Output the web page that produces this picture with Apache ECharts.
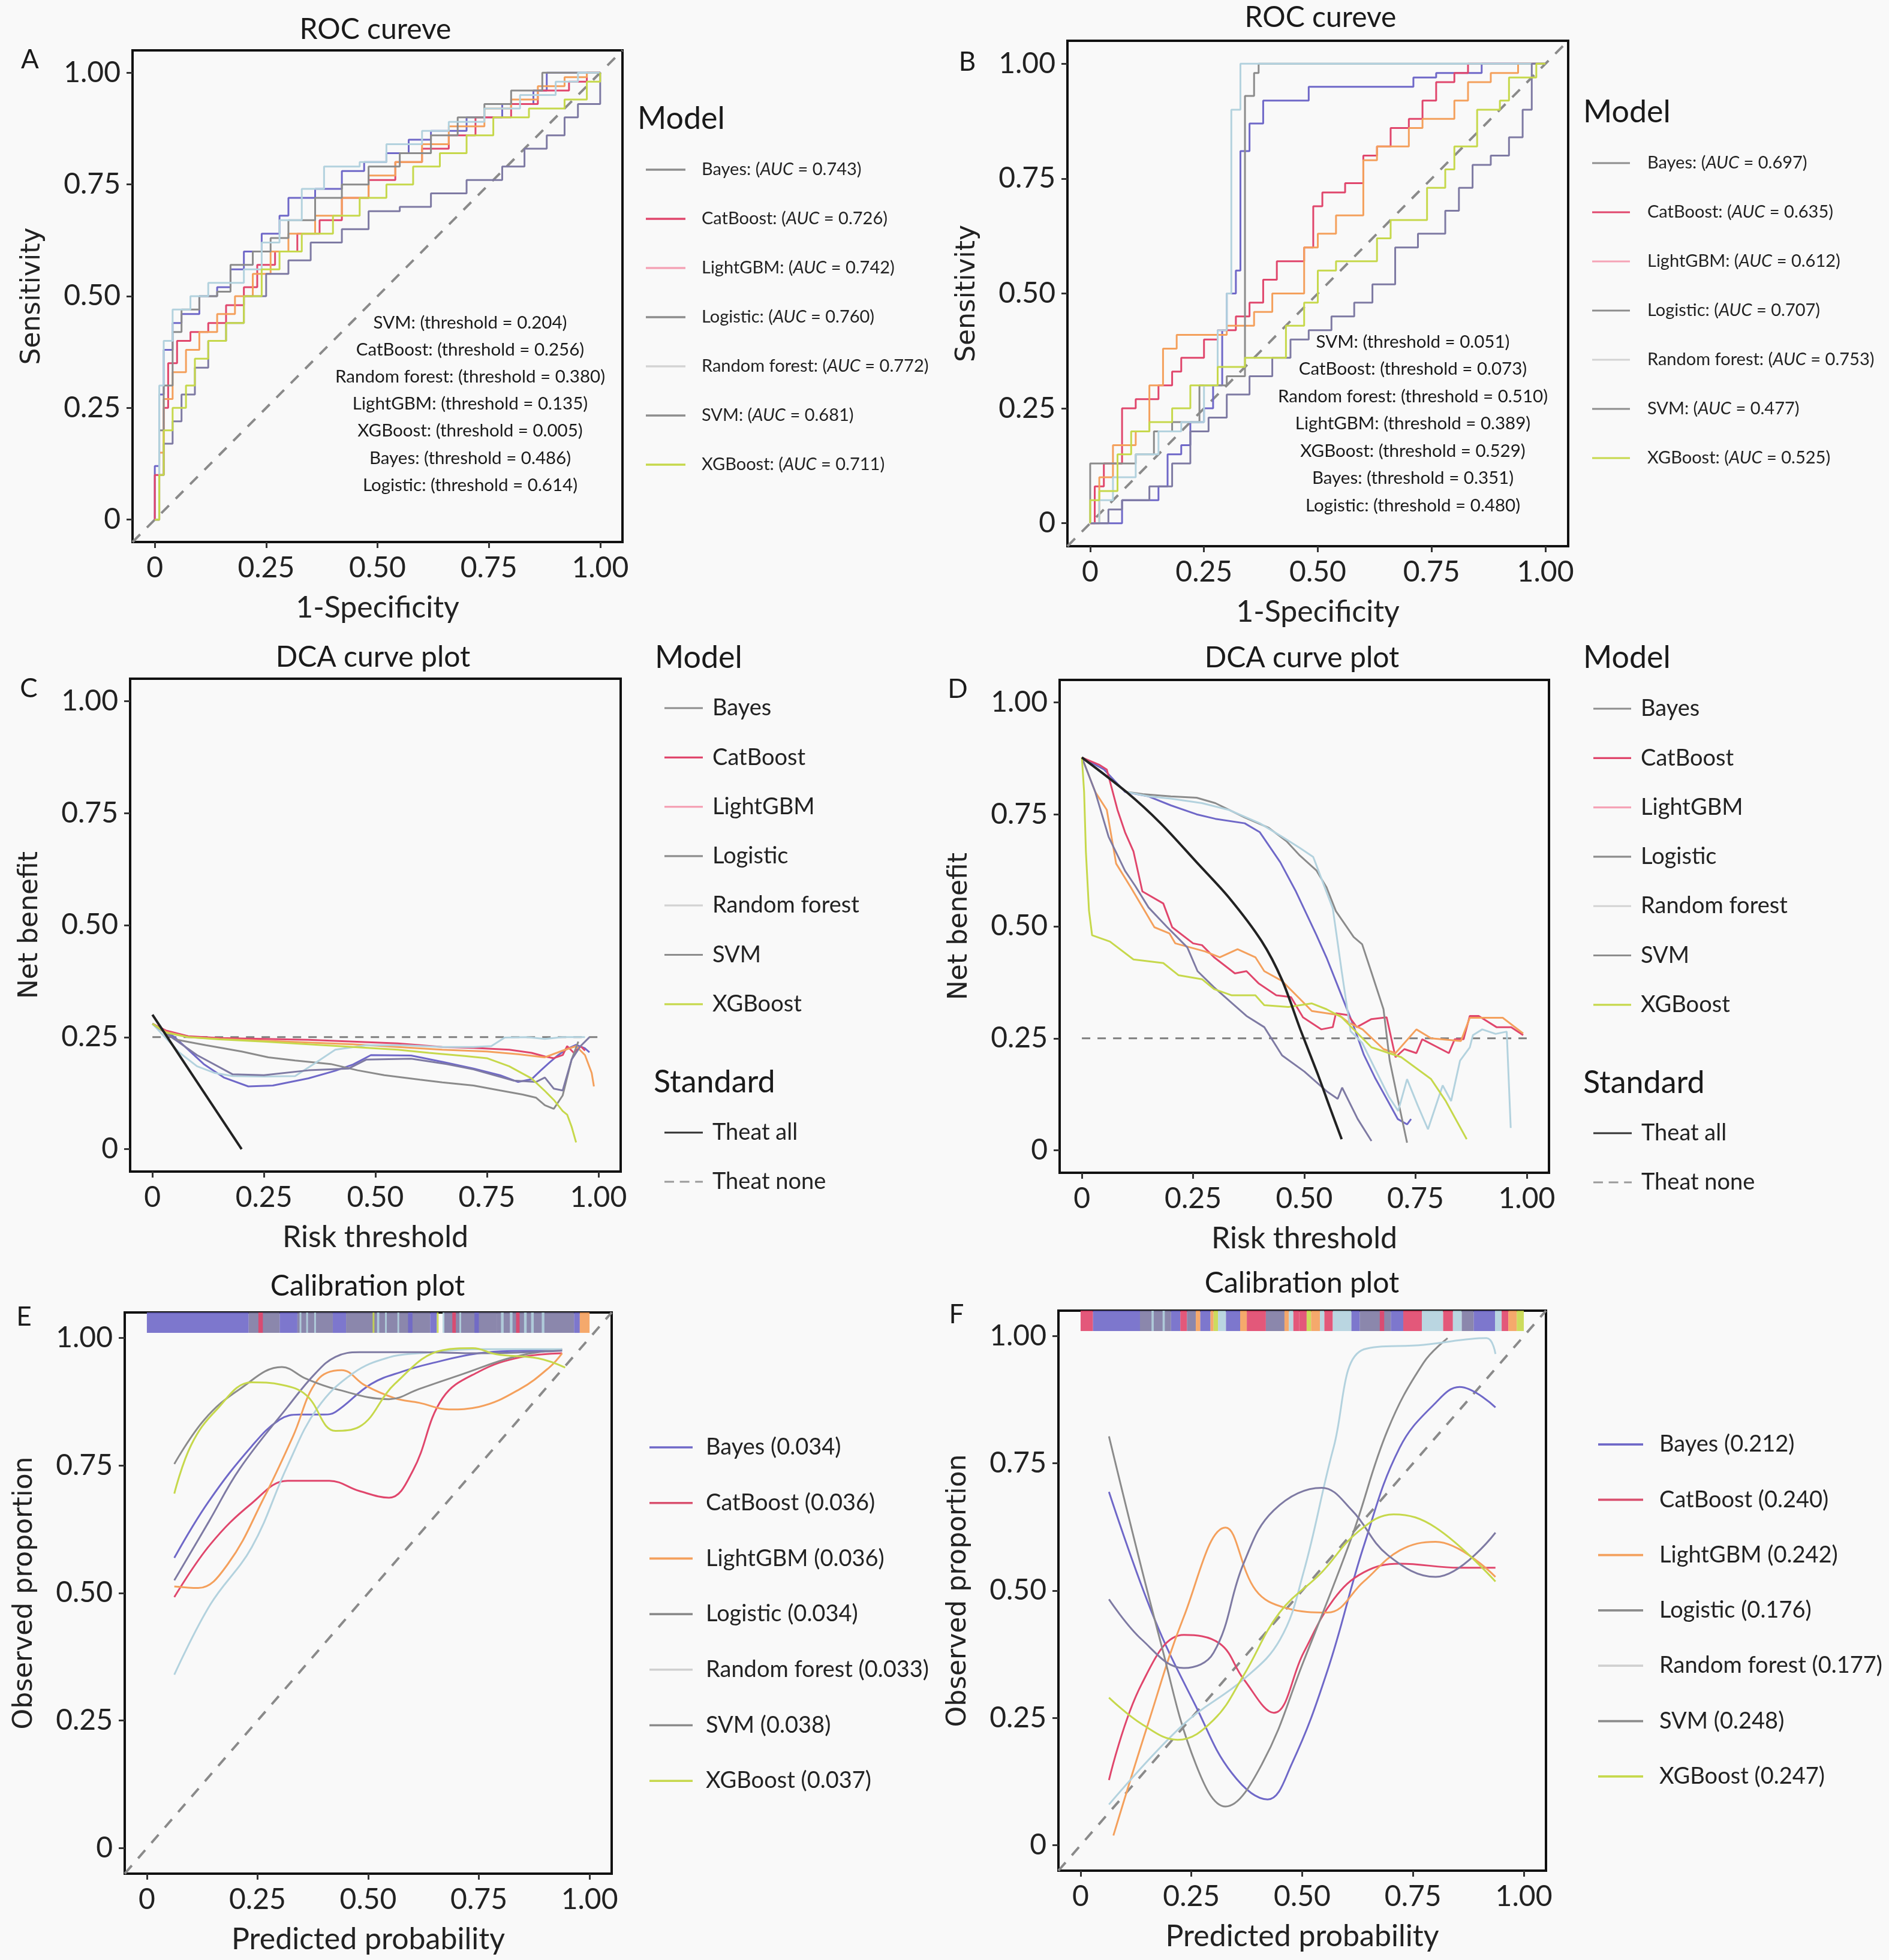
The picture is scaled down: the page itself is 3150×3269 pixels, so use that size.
<!DOCTYPE html>
<html>
<head>
<meta charset="utf-8">
<title>ROC, DCA and calibration</title>
<script src="https://cdn.jsdelivr.net/npm/echarts@6.0.0/dist/echarts.min.js"></script>
<style>
  html, body { margin: 0; padding: 0; background: #f9f9f9; }
  #chart { width: 3150px; height: 3269px; }
</style>
</head>
<body>
<div id="chart"></div>
<script>
const FONT = "Lato, 'Open Sans', sans-serif";
const YFONT = "'DejaVu Sans', Verdana, sans-serif";

const MODELS = ["Bayes", "CatBoost", "LightGBM", "Logistic", "Random forest", "SVM", "XGBoost"];
const LINE_COLORS = ["#6f68c8", "#e0466c", "#f4a05c", "#8b8b8b", "#b3d2de", "#7e7aa3", "#c6d84b"];
const KEY_COLORS = ["#8d8d8d", "#e0466c", "#f5a3b6", "#8d8d8d", "#d3d3d3", "#8d8d8d", "#c6d84b"];
const CAL_KEY_COLORS = ["#6f68c8", "#d9506e", "#f4a05c", "#8b8b8b", "#d0d0d0", "#8b8b8b", "#c6d84b"];
const TICKS = [0, 0.25, 0.5, 0.75, 1];

const AUC_TRAIN = ["0.743", "0.726", "0.742", "0.760", "0.772", "0.681", "0.711"];
const AUC_TEST = ["0.697", "0.635", "0.612", "0.707", "0.753", "0.477", "0.525"];
const CAL_TRAIN = ["0.034", "0.036", "0.036", "0.034", "0.033", "0.038", "0.037"];
const CAL_TEST = ["0.212", "0.240", "0.242", "0.176", "0.177", "0.248", "0.247"];

const THRESH_TRAIN = [
  ["SVM", "0.204"], ["CatBoost", "0.256"], ["Random forest", "0.380"], ["LightGBM", "0.135"],
  ["XGBoost", "0.005"], ["Bayes", "0.486"], ["Logistic", "0.614"]
];
const THRESH_TEST = [
  ["SVM", "0.051"], ["CatBoost", "0.073"], ["Random forest", "0.510"], ["LightGBM", "0.389"],
  ["XGBoost", "0.529"], ["Bayes", "0.351"], ["Logistic", "0.480"]
];

// ROC vertices, model order as MODELS
const rocTrain = [
  [[0,0],[0,0.12],[0.01,0.28],[0.02,0.38],[0.04,0.44],[0.06,0.46],[0.1,0.5],[0.14,0.52],[0.17,0.56],[0.2,0.6],[0.24,0.64],[0.28,0.68],[0.3,0.72],[0.36,0.74],[0.42,0.78],[0.47,0.8],[0.52,0.82],[0.57,0.85],[0.62,0.87],[0.7,0.9],[0.78,0.93],[0.85,0.96],[0.88,1],[1,1]],
  [[0,0],[0,0.1],[0.02,0.25],[0.03,0.35],[0.05,0.4],[0.08,0.42],[0.12,0.44],[0.16,0.48],[0.2,0.52],[0.23,0.57],[0.27,0.6],[0.32,0.64],[0.37,0.67],[0.42,0.72],[0.48,0.76],[0.54,0.8],[0.6,0.83],[0.66,0.86],[0.72,0.9],[0.8,0.93],[0.86,0.96],[0.93,0.98],[0.97,1],[1,1]],
  [[0,0],[0.01,0.15],[0.02,0.27],[0.04,0.33],[0.07,0.38],[0.1,0.42],[0.14,0.46],[0.18,0.5],[0.22,0.55],[0.26,0.6],[0.3,0.64],[0.36,0.68],[0.42,0.72],[0.48,0.77],[0.54,0.8],[0.6,0.84],[0.66,0.88],[0.74,0.92],[0.8,0.94],[0.86,0.97],[0.92,0.99],[0.97,1],[1,1]],
  [[0,0],[0.01,0.2],[0.02,0.3],[0.04,0.42],[0.06,0.47],[0.1,0.5],[0.14,0.51],[0.17,0.57],[0.22,0.6],[0.26,0.63],[0.3,0.67],[0.36,0.72],[0.42,0.75],[0.48,0.79],[0.55,0.82],[0.62,0.86],[0.68,0.9],[0.74,0.93],[0.8,0.96],[0.87,1],[1,1]],
  [[0,0],[0.01,0.3],[0.02,0.4],[0.04,0.47],[0.08,0.5],[0.12,0.53],[0.2,0.56],[0.24,0.62],[0.28,0.67],[0.33,0.74],[0.38,0.79],[0.46,0.8],[0.52,0.84],[0.6,0.87],[0.66,0.89],[0.74,0.92],[0.82,0.95],[0.9,0.98],[0.95,1],[1,1]],
  [[0,0],[0.01,0.1],[0.02,0.17],[0.04,0.22],[0.06,0.28],[0.09,0.34],[0.12,0.4],[0.16,0.44],[0.2,0.5],[0.25,0.55],[0.3,0.58],[0.35,0.62],[0.42,0.65],[0.48,0.69],[0.55,0.7],[0.62,0.73],[0.7,0.76],[0.78,0.79],[0.83,0.83],[0.88,0.86],[0.92,0.9],[0.95,0.93],[1,1]],
  [[0,0],[0.01,0.1],[0.02,0.2],[0.04,0.25],[0.07,0.3],[0.09,0.36],[0.12,0.4],[0.16,0.44],[0.2,0.5],[0.24,0.56],[0.28,0.6],[0.33,0.64],[0.4,0.68],[0.46,0.72],[0.52,0.75],[0.58,0.79],[0.64,0.82],[0.7,0.86],[0.76,0.9],[0.84,0.92],[0.92,0.94],[0.97,0.98],[1,1]]
];
const rocTest = [
  [[0,0],[0.07,0],[0.07,0.05],[0.15,0.08],[0.17,0.15],[0.2,0.17],[0.22,0.22],[0.25,0.25],[0.27,0.3],[0.29,0.42],[0.3,0.5],[0.32,0.55],[0.33,0.81],[0.35,0.87],[0.38,0.92],[0.48,0.92],[0.48,0.95],[0.71,0.95],[0.71,0.97],[0.76,0.98],[0.86,1],[1,1]],
  [[0,0],[0.01,0.08],[0.03,0.13],[0.07,0.25],[0.1,0.27],[0.15,0.3],[0.18,0.33],[0.2,0.36],[0.25,0.4],[0.28,0.42],[0.32,0.45],[0.35,0.48],[0.38,0.53],[0.41,0.57],[0.47,0.6],[0.49,0.69],[0.51,0.72],[0.56,0.74],[0.6,0.8],[0.63,0.82],[0.66,0.86],[0.7,0.88],[0.73,0.92],[0.76,0.96],[0.8,0.98],[0.83,1],[1,1]],
  [[0,0],[0.02,0.1],[0.05,0.17],[0.1,0.2],[0.13,0.3],[0.16,0.38],[0.19,0.41],[0.27,0.41],[0.3,0.43],[0.36,0.46],[0.4,0.5],[0.47,0.6],[0.5,0.63],[0.54,0.67],[0.6,0.67],[0.6,0.79],[0.63,0.82],[0.7,0.86],[0.73,0.88],[0.78,0.88],[0.8,0.92],[0.83,0.96],[0.88,0.98],[0.94,1],[1,1]],
  [[0,0],[0,0.13],[0.07,0.13],[0.1,0.15],[0.14,0.2],[0.18,0.22],[0.24,0.3],[0.3,0.32],[0.34,0.37],[0.34,0.93],[0.36,0.98],[0.37,1],[1,1]],
  [[0,0],[0.02,0.05],[0.05,0.1],[0.1,0.15],[0.15,0.2],[0.2,0.22],[0.25,0.3],[0.28,0.42],[0.3,0.5],[0.31,0.55],[0.31,0.9],[0.33,1],[1,1]],
  [[0,0],[0.04,0.03],[0.07,0.05],[0.13,0.08],[0.18,0.13],[0.22,0.2],[0.26,0.23],[0.3,0.28],[0.35,0.32],[0.4,0.36],[0.44,0.4],[0.48,0.42],[0.53,0.45],[0.58,0.48],[0.62,0.52],[0.67,0.6],[0.72,0.63],[0.78,0.68],[0.81,0.73],[0.84,0.78],[0.88,0.8],[0.92,0.84],[0.95,0.9],[0.97,1],[1,1]],
  [[0,0],[0,0.05],[0.02,0.07],[0.06,0.15],[0.09,0.2],[0.13,0.22],[0.18,0.25],[0.22,0.3],[0.28,0.34],[0.34,0.36],[0.42,0.36],[0.43,0.43],[0.47,0.48],[0.5,0.55],[0.54,0.57],[0.6,0.57],[0.63,0.62],[0.66,0.66],[0.73,0.66],[0.74,0.73],[0.78,0.77],[0.8,0.82],[0.85,0.9],[0.9,0.92],[0.92,0.97],[0.98,1],[1,1]]
];

// decision curves (threshold, net benefit)
const dcaTrain = [
  [[0,0.28],[0.05,0.25],[0.115,0.19],[0.16,0.16],[0.215,0.14],[0.27,0.142],[0.35,0.158],[0.41,0.175],[0.45,0.189],[0.49,0.21],[0.58,0.209],[0.65,0.195],[0.72,0.18],[0.78,0.165],[0.82,0.15],[0.85,0.156],[0.87,0.175],[0.89,0.193],[0.91,0.21],[0.93,0.224],[0.95,0.233],[0.97,0.225],[0.98,0.216]],
  [[0,0.28],[0.03,0.265],[0.08,0.252],[0.15,0.248],[0.25,0.246],[0.35,0.244],[0.45,0.24],[0.55,0.236],[0.65,0.228],[0.72,0.226],[0.8,0.222],[0.85,0.215],[0.88,0.207],[0.9,0.203],[0.92,0.21],[0.93,0.23],[0.945,0.215],[0.96,0.23],[0.97,0.22]],
  [[0,0.28],[0.03,0.262],[0.08,0.25],[0.15,0.246],[0.25,0.242],[0.35,0.238],[0.45,0.234],[0.55,0.228],[0.65,0.222],[0.75,0.218],[0.82,0.212],[0.88,0.205],[0.92,0.22],[0.95,0.23],[0.97,0.21],[0.985,0.17],[0.99,0.14]],
  [[0,0.28],[0.05,0.245],[0.12,0.232],[0.2,0.218],[0.26,0.205],[0.32,0.198],[0.4,0.19],[0.46,0.176],[0.52,0.165],[0.6,0.155],[0.65,0.149],[0.72,0.142],[0.78,0.131],[0.83,0.122],[0.86,0.115],[0.88,0.098],[0.9,0.09],[0.92,0.12],[0.94,0.2],[0.955,0.24]],
  [[0,0.28],[0.06,0.216],[0.1,0.185],[0.14,0.17],[0.18,0.163],[0.25,0.162],[0.32,0.163],[0.36,0.189],[0.41,0.222],[0.48,0.232],[0.56,0.232],[0.65,0.228],[0.72,0.228],[0.76,0.23],[0.79,0.249],[0.84,0.25],[0.88,0.246],[0.92,0.25],[0.97,0.25]],
  [[0,0.28],[0.05,0.245],[0.1,0.21],[0.18,0.167],[0.25,0.165],[0.35,0.176],[0.44,0.18],[0.48,0.2],[0.58,0.202],[0.66,0.19],[0.72,0.178],[0.81,0.153],[0.86,0.15],[0.88,0.16],[0.9,0.135],[0.92,0.131],[0.94,0.2],[0.96,0.23],[0.98,0.25]],
  [[0,0.28],[0.03,0.26],[0.08,0.25],[0.15,0.245],[0.25,0.24],[0.35,0.234],[0.45,0.228],[0.55,0.222],[0.62,0.215],[0.7,0.208],[0.75,0.203],[0.8,0.185],[0.85,0.158],[0.88,0.13],[0.9,0.11],[0.92,0.085],[0.93,0.077],[0.94,0.05],[0.95,0.015]]
];
const treatAllTrain = [[0,0.3],[0.2,0]];
const dcaTest = [
  [[0,0.877],[0.05,0.85],[0.097,0.8],[0.15,0.79],[0.2,0.77],[0.258,0.75],[0.3,0.74],[0.366,0.73],[0.4,0.71],[0.446,0.643],[0.48,0.58],[0.527,0.481],[0.55,0.43],[0.58,0.355],[0.61,0.28],[0.634,0.213],[0.66,0.16],[0.688,0.11],[0.71,0.07],[0.731,0.058],[0.74,0.07]],
  [[0,0.877],[0.04,0.86],[0.056,0.85],[0.08,0.76],[0.097,0.71],[0.116,0.667],[0.136,0.578],[0.183,0.551],[0.203,0.498],[0.25,0.462],[0.27,0.458],[0.297,0.431],[0.344,0.395],[0.37,0.4],[0.397,0.373],[0.437,0.346],[0.47,0.342],[0.497,0.297],[0.538,0.27],[0.564,0.275],[0.571,0.306],[0.598,0.302],[0.618,0.275],[0.651,0.293],[0.685,0.297],[0.705,0.208],[0.725,0.226],[0.752,0.217],[0.765,0.248],[0.825,0.217],[0.838,0.248],[0.858,0.248],[0.872,0.3],[0.892,0.3],[0.932,0.275],[0.965,0.275],[0.992,0.257]],
  [[0,0.877],[0.03,0.8],[0.056,0.76],[0.077,0.64],[0.11,0.587],[0.163,0.498],[0.197,0.484],[0.21,0.462],[0.277,0.444],[0.31,0.431],[0.35,0.449],[0.39,0.431],[0.41,0.4],[0.45,0.378],[0.49,0.338],[0.517,0.311],[0.578,0.302],[0.6,0.285],[0.631,0.27],[0.678,0.226],[0.705,0.217],[0.752,0.27],[0.785,0.25],[0.852,0.244],[0.872,0.296],[0.946,0.296],[0.992,0.261]],
  [[0,0.877],[0.05,0.84],[0.1,0.8],[0.137,0.795],[0.2,0.79],[0.258,0.787],[0.3,0.775],[0.366,0.743],[0.42,0.72],[0.46,0.69],[0.49,0.658],[0.527,0.625],[0.55,0.587],[0.571,0.534],[0.611,0.476],[0.63,0.46],[0.65,0.4],[0.678,0.315],[0.692,0.2],[0.711,0.11],[0.731,0.017]],
  [[0,0.877],[0.1,0.8],[0.15,0.79],[0.2,0.785],[0.27,0.775],[0.33,0.76],[0.4,0.73],[0.45,0.7],[0.49,0.675],[0.52,0.655],[0.564,0.54],[0.584,0.4],[0.604,0.266],[0.63,0.24],[0.66,0.18],[0.69,0.12],[0.711,0.088],[0.731,0.159],[0.755,0.1],[0.778,0.047],[0.811,0.145],[0.83,0.11],[0.85,0.2],[0.872,0.23],[0.879,0.257],[0.9,0.27],[0.93,0.26],[0.955,0.265],[0.964,0.05]],
  [[0,0.877],[0.03,0.8],[0.06,0.7],[0.097,0.624],[0.12,0.59],[0.15,0.542],[0.19,0.5],[0.237,0.453],[0.26,0.4],[0.297,0.364],[0.337,0.329],[0.37,0.3],[0.41,0.275],[0.45,0.212],[0.5,0.176],[0.55,0.132],[0.575,0.115],[0.585,0.14],[0.62,0.07],[0.651,0.021]],
  [[0,0.877],[0.005,0.8],[0.009,0.667],[0.016,0.535],[0.023,0.48],[0.063,0.466],[0.116,0.426],[0.183,0.418],[0.217,0.391],[0.27,0.382],[0.297,0.36],[0.337,0.346],[0.39,0.346],[0.41,0.324],[0.464,0.32],[0.517,0.328],[0.55,0.315],[0.584,0.297],[0.651,0.23],[0.718,0.208],[0.785,0.159],[0.818,0.11],[0.865,0.025]]
];
const treatAllTest = [[0,0.877],[0.1,0.8],[0.177,0.73],[0.258,0.643],[0.33,0.565],[0.404,0.467],[0.45,0.38],[0.491,0.27],[0.531,0.168],[0.557,0.097],[0.584,0.025]];
const treatNone = [[0,0.25],[1,0.25]];

// calibration curves (predicted, observed)
const calTrain = [
  [[0.062,0.569],[0.14,0.68],[0.237,0.788],[0.3,0.84],[0.345,0.85],[0.4,0.85],[0.426,0.855],[0.507,0.91],[0.58,0.935],[0.641,0.95],[0.75,0.97],[0.85,0.975],[0.938,0.976]],
  [[0.062,0.492],[0.143,0.595],[0.237,0.676],[0.318,0.72],[0.412,0.72],[0.48,0.7],[0.547,0.687],[0.601,0.74],[0.668,0.882],[0.75,0.934],[0.843,0.962],[0.938,0.97]],
  [[0.062,0.513],[0.116,0.51],[0.183,0.557],[0.264,0.686],[0.33,0.807],[0.385,0.917],[0.44,0.937],[0.493,0.907],[0.56,0.882],[0.615,0.873],[0.682,0.86],[0.75,0.865],[0.843,0.9],[0.91,0.943],[0.938,0.97]],
  [[0.062,0.753],[0.13,0.84],[0.21,0.9],[0.305,0.943],[0.36,0.92],[0.426,0.9],[0.547,0.88],[0.615,0.9],[0.709,0.928],[0.83,0.963],[0.938,0.978]],
  [[0.062,0.34],[0.143,0.477],[0.237,0.59],[0.318,0.75],[0.385,0.862],[0.466,0.931],[0.547,0.962],[0.615,0.97],[0.75,0.978],[0.938,0.978]],
  [[0.062,0.525],[0.14,0.64],[0.21,0.744],[0.318,0.865],[0.38,0.93],[0.426,0.963],[0.48,0.972],[0.615,0.972],[0.75,0.97],[0.938,0.975]],
  [[0.062,0.695],[0.1,0.79],[0.156,0.858],[0.237,0.913],[0.305,0.908],[0.36,0.888],[0.426,0.818],[0.48,0.826],[0.56,0.91],[0.668,0.976],[0.736,0.98],[0.79,0.968],[0.884,0.96],[0.945,0.942]]
];
const calTest = [
  [[0.064,0.694],[0.165,0.448],[0.26,0.273],[0.341,0.142],[0.422,0.09],[0.476,0.159],[0.557,0.343],[0.639,0.588],[0.72,0.781],[0.801,0.869],[0.855,0.9],[0.936,0.86]],
  [[0.064,0.128],[0.138,0.317],[0.233,0.413],[0.314,0.396],[0.368,0.326],[0.436,0.26],[0.503,0.378],[0.571,0.483],[0.639,0.536],[0.72,0.553],[0.855,0.545],[0.936,0.545]],
  [[0.074,0.019],[0.152,0.238],[0.233,0.449],[0.327,0.624],[0.395,0.501],[0.463,0.466],[0.557,0.457],[0.639,0.518],[0.72,0.579],[0.801,0.596],[0.936,0.527]],
  [[0.064,0.803],[0.179,0.404],[0.26,0.159],[0.327,0.076],[0.409,0.159],[0.503,0.361],[0.612,0.606],[0.693,0.816],[0.774,0.948],[0.828,0.996]],
  [[0.064,0.08],[0.233,0.238],[0.368,0.326],[0.45,0.404],[0.503,0.536],[0.571,0.782],[0.639,0.974],[0.774,0.983],[0.916,0.996],[0.936,0.965]],
  [[0.064,0.483],[0.138,0.404],[0.233,0.348],[0.3,0.378],[0.368,0.554],[0.436,0.658],[0.544,0.702],[0.612,0.658],[0.693,0.57],[0.801,0.527],[0.936,0.614]],
  [[0.064,0.29],[0.138,0.238],[0.219,0.207],[0.3,0.246],[0.368,0.334],[0.449,0.457],[0.544,0.536],[0.625,0.615],[0.706,0.65],[0.801,0.624],[0.936,0.518]]
];

// rug of predicted probabilities: [from, to, model index]
const rugTrain = [
  [0.000,0.230,0],[0.230,0.300,5],[0.252,0.262,1],[0.300,0.340,0],[0.340,0.420,5],[0.345,0.349,4],[0.360,0.364,4],[0.378,0.382,4],
  [0.420,0.450,0],[0.450,0.640,5],[0.510,0.514,6],[0.520,0.525,4],[0.538,0.542,4],[0.566,0.570,4],[0.590,0.600,0],[0.640,0.655,0],
  [0.655,0.659,6],[0.668,0.672,4],[0.672,0.790,5],[0.690,0.698,1],[0.706,0.710,4],[0.740,0.750,0],[0.790,0.965,5],[0.800,0.806,4],
  [0.820,0.826,4],[0.834,0.842,1],[0.852,0.858,4],[0.868,0.874,4],[0.892,0.898,4],[0.965,0.978,0],[0.978,1.000,2]
];
const rugTest = [
  [0.000,0.028,1],[0.028,0.134,0],[0.134,0.204,5],[0.160,0.165,4],[0.185,0.190,4],[0.204,0.225,0],[0.225,0.240,1],[0.240,0.260,5],
  [0.260,0.270,2],[0.270,0.293,0],[0.293,0.300,2],[0.300,0.310,6],[0.310,0.328,4],[0.328,0.360,0],[0.360,0.375,2],[0.375,0.418,1],
  [0.418,0.460,5],[0.460,0.470,2],[0.470,0.480,4],[0.480,0.493,1],[0.493,0.510,1],[0.510,0.520,6],[0.520,0.540,2],[0.540,0.550,4],
  [0.550,0.569,1],[0.569,0.611,4],[0.611,0.630,0],[0.630,0.700,5],[0.675,0.685,1],[0.700,0.728,0],[0.728,0.770,1],[0.770,0.818,4],
  [0.818,0.840,1],[0.840,0.860,4],[0.860,0.887,5],[0.887,0.935,0],[0.935,0.950,4],[0.950,0.965,1],[0.965,0.984,2],[0.984,1.000,6]
];
const DIAG = [[-0.05,-0.05],[1.05,1.05]];

const GRIDS = [
  { left: 221, top: 84, width: 817, height: 820 },
  { left: 1780, top: 68, width: 835, height: 843 },
  { left: 217, top: 1132, width: 818, height: 822 },
  { left: 1767, top: 1134, width: 816, height: 822 },
  { left: 208, top: 2189, width: 812, height: 936 },
  { left: 1765, top: 2186, width: 813, height: 934 }
];
const X_NAMES = ["1-Specificity", "1-Specificity", "Risk threshold", "Risk threshold", "Predicted probability", "Predicted probability"];
const Y_NAMES = ["Sensitivity", "Sensitivity", "Net benefit", "Net benefit", "Observed proportion", "Observed proportion"];
const LINE_KEY = "path://M0,0h40v2h-40z";
const DASH_KEY = "path://M0,0h10v2h-10z M16,0h10v2h-10z M32,0h8v2h-8z";

function fmtTick(v) { return v === 0 ? "0" : v.toFixed(2); }

function axisBase(i) {
  return {
    type: "value", gridIndex: i, min: -0.05, max: 1.05,
    splitLine: { show: false }, axisLine: { show: false, onZero: false },
    axisTick: { show: true, length: 10, customValues: TICKS, lineStyle: { color: "#333", width: 3 } },
    axisLabel: { customValues: TICKS, fontFamily: FONT, fontSize: 48, color: "#222", margin: 20, formatter: fmtTick },
    nameLocation: "middle"
  };
}
function xAxis(i) {
  return Object.assign(axisBase(i), {
    name: X_NAMES[i], nameGap: 110,
    nameTextStyle: { fontFamily: FONT, fontSize: 50, color: "#222", verticalAlign: "middle" }
  });
}
function yAxis(i) {
  return Object.assign(axisBase(i), {
    name: Y_NAMES[i], nameGap: 166,
    nameTextStyle: { fontFamily: YFONT, fontSize: 44, color: "#222", verticalAlign: "middle" }
  });
}

function modelLines(curves, idx, opts) {
  return MODELS.map((m, i) => Object.assign({
    type: "line", name: m, xAxisIndex: idx, yAxisIndex: idx, data: curves[i],
    symbol: "none", showSymbol: false, z: 3,
    lineStyle: { color: LINE_COLORS[i], width: 3 }, itemStyle: { color: LINE_COLORS[i] }
  }, opts || {}));
}
function diagonal(idx) {
  return { type: "line", name: "ref", xAxisIndex: idx, yAxisIndex: idx, data: DIAG, symbol: "none", z: 2,
    lineStyle: { color: "#8a8a8a", width: 4, type: [18, 16] } };
}
function rug(data, idx) {
  return {
    type: "custom", name: "rug", xAxisIndex: idx, yAxisIndex: idx, data, clip: false, z: 4,
    renderItem(params, api) {
      const a = api.coord([api.value(0), 1.05]);
      const b = api.coord([api.value(1), 1.01]);
      return { type: "rect", shape: { x: a[0], y: a[1], width: Math.max(b[0] - a[0], 2), height: b[1] - a[1] },
        style: { fill: LINE_COLORS[api.value(2)], opacity: 0.9 } };
    }
  };
}
function standardLines(allData, idx) {
  return [
    { type: "line", name: "Theat all", xAxisIndex: idx, yAxisIndex: idx, data: allData, symbol: "none", smooth: 0.3, z: 4,
      lineStyle: { color: "#222", width: 4 }, itemStyle: { color: "#222" } },
    { type: "line", name: "Theat none", xAxisIndex: idx, yAxisIndex: idx, data: treatNone, symbol: "none", z: 2,
      lineStyle: { color: "#7f7f7f", width: 3, type: [14, 12] }, itemStyle: { color: "#7f7f7f" } }
  ];
}

function modelLegend(left, top, keyW, pad, size, lh, gap, keys, fmt) {
  return {
    orient: "vertical", left, top, itemWidth: keyW, itemHeight: 5, itemGap: gap, selectedMode: false,
    data: MODELS.map((m, i) => ({ name: m, icon: LINE_KEY, itemStyle: { color: keys[i], borderWidth: 0 } })),
    formatter: fmt,
    textStyle: { fontFamily: FONT, fontSize: size, color: "#222", lineHeight: lh, padding: [0, 0, 0, pad],
      rich: {
        n: { fontFamily: FONT, fontSize: size, color: "#222", lineHeight: lh },
        i: { fontFamily: FONT, fontSize: size, color: "#222", lineHeight: lh, fontStyle: "italic" }
      } }
  };
}
function aucFormatter(aucs) {
  return name => `{n|${name}: (}{i|AUC}{n| = ${aucs[MODELS.indexOf(name)]})}`;
}
function calFormatter(vals) {
  return name => `${name} (${vals[MODELS.indexOf(name)]})`;
}
function standardLegend(left, top) {
  return {
    orient: "vertical", left, top, itemWidth: 64, itemHeight: 5, itemGap: 38, selectedMode: false,
    data: [
      { name: "Theat all", icon: LINE_KEY, itemStyle: { color: "#333", borderWidth: 0 } },
      { name: "Theat none", icon: DASH_KEY, itemStyle: { color: "#9a9a9a", borderWidth: 0 } }
    ],
    textStyle: { fontFamily: FONT, fontSize: 38, color: "#222", lineHeight: 44, padding: [0, 0, 0, 11] }
  };
}

function text(str, x, y, size, align, family) {
  return {
    type: "text", x, y, silent: true,
    style: { text: str, fontSize: size, fontFamily: family || FONT, fill: "#1a1a1a",
      align: align || "left", verticalAlign: "middle", textAlign: align || "left", textVerticalAlign: "middle" }
  };
}
function thresholdTexts(rows, cx, y0, step) {
  return rows.map((r, k) => text(`${r[0]}: (threshold = ${r[1]})`, cx, y0 + k * step, 29.5, "center"));
}

const graphics = [
  text("ROC cureve", 626, 50, 48, "center"),
  text("ROC cureve", 2202, 30, 48, "center"),
  text("DCA curve plot", 622, 1097, 48, "center"),
  text("DCA curve plot", 2171, 1098, 48, "center"),
  text("Calibration plot", 613, 2146, 48, "center"),
  text("Calibration plot", 2171, 2141, 48, "center"),
  text("A", 50, 100, 44, "center"),
  text("B", 1613, 104, 44, "center"),
  text("C", 48, 1149, 44, "center"),
  text("D", 1597, 1150, 44, "center"),
  text("E", 40, 2197, 44, "center"),
  text("F", 1595, 2193, 44, "center"),
  text("Model", 1063, 198, 52),
  text("Model", 2640, 187, 52),
  text("Model", 1092, 1097, 52),
  text("Model", 2640, 1097, 52),
  text("Standard", 1090, 1805, 52),
  text("Standard", 2640, 1806, 52)
].concat(thresholdTexts(THRESH_TRAIN, 784, 538, 45.2), thresholdTexts(THRESH_TEST, 2356, 570, 45.5));

const series = [].concat(
  diagonal(0), modelLines(rocTrain, 0, { step: "end" }),
  diagonal(1), modelLines(rocTest, 1, { step: "end" }),
  modelLines(dcaTrain, 2), standardLines(treatAllTrain, 2),
  modelLines(dcaTest, 3), standardLines(treatAllTest, 3),
  diagonal(4), modelLines(calTrain, 4, { smooth: 0.4 }), rug(rugTrain, 4),
  diagonal(5), modelLines(calTest, 5, { smooth: 0.4 }), rug(rugTest, 5)
);

const chart = echarts.init(document.getElementById("chart"), null, { renderer: "canvas" });
chart.setOption({
  backgroundColor: "#f9f9f9",
  animation: false,
  grid: GRIDS.map(g => Object.assign({ show: true, borderColor: "#111", borderWidth: 4, backgroundColor: "transparent" }, g)),
  xAxis: GRIDS.map((g, i) => xAxis(i)),
  yAxis: GRIDS.map((g, i) => yAxis(i)),
  legend: [
    modelLegend(1072, 260, 66, 22, 29, 36, 46, KEY_COLORS, aucFormatter(AUC_TRAIN)),
    modelLegend(2650, 249, 63, 24, 29, 36, 46, KEY_COLORS, aucFormatter(AUC_TEST)),
    modelLegend(1103, 1154, 64, 11, 38, 44, 38.3, KEY_COLORS, name => name),
    modelLegend(2652, 1155, 63, 11, 38, 44, 38.3, KEY_COLORS, name => name),
    standardLegend(1103, 1862),
    standardLegend(2652, 1863),
    modelLegend(1078, 2387, 72, 17, 38, 44, 48.7, CAL_KEY_COLORS, calFormatter(CAL_TRAIN)),
    modelLegend(2660, 2382, 75, 22, 38, 44, 48.3, CAL_KEY_COLORS, calFormatter(CAL_TEST))
  ],
  graphic: graphics,
  series
});
</script>
</body>
</html>
